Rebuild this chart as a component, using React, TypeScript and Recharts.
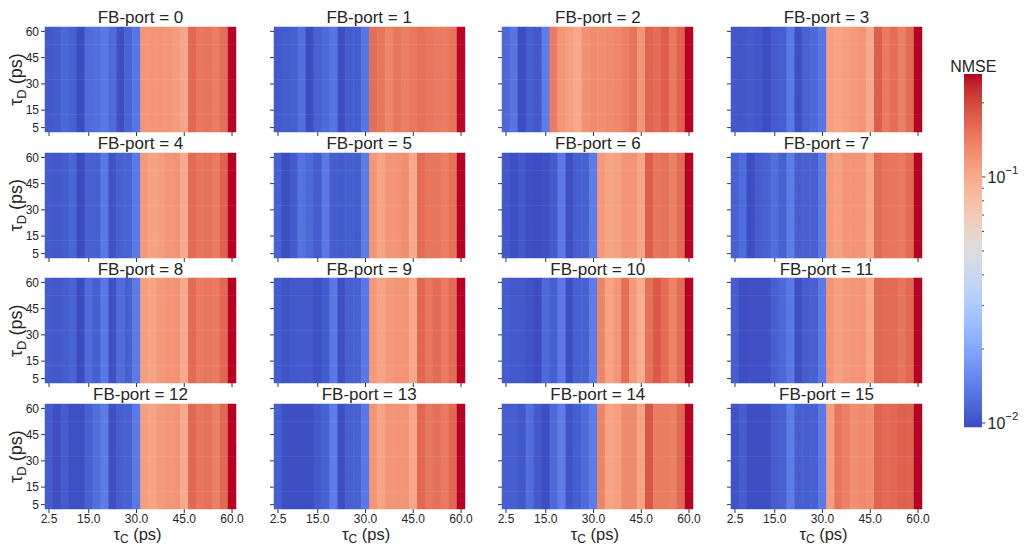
import React from 'react';
import { ScatterChart, Scatter, XAxis, YAxis, BarChart, Bar } from 'recharts';

// grid coordinates (ps)
const tauC = [2.5, 5, 7.5, 10, 12.5, 15, 17.5, 20, 22.5, 25, 27.5, 30, 32.5, 35, 37.5, 40, 42.5, 45, 47.5, 50, 52.5, 55, 57.5, 60];
const tauD = [5, 10, 15, 20, 25, 30, 35, 40, 45, 50, 55, 60];
const xTicks = [2.5, 15, 30, 45, 60];
const yTicks = [5, 15, 30, 45, 60];
const cbTicks = [0.01, 0.02, 0.03, 0.04, 0.05, 0.06, 0.07, 0.08, 0.09, 0.1, 0.2];

// NMSE per tau_C column, one array per FB-port
const port0 = [0.0106, 0.0108, 0.0118, 0.0112, 0.0097, 0.0122, 0.0125, 0.0135, 0.012, 0.0098, 0.0115, 0.0132, 0.118, 0.12, 0.12, 0.118, 0.113, 0.102, 0.165, 0.148, 0.152, 0.142, 0.158, 0.26];
const port1 = [0.0106, 0.0108, 0.011, 0.0125, 0.0097, 0.0112, 0.012, 0.0132, 0.0098, 0.0108, 0.0108, 0.0132, 0.158, 0.15, 0.135, 0.15, 0.14, 0.148, 0.155, 0.15, 0.145, 0.142, 0.152, 0.26];
const port2 = [0.0118, 0.0132, 0.0097, 0.011, 0.0105, 0.0138, 0.145, 0.118, 0.11, 0.1, 0.122, 0.128, 0.125, 0.13, 0.132, 0.14, 0.152, 0.118, 0.168, 0.158, 0.175, 0.148, 0.172, 0.262];
const port3 = [0.0105, 0.0104, 0.0108, 0.0104, 0.0097, 0.0108, 0.011, 0.0135, 0.0099, 0.0112, 0.0118, 0.0133, 0.11, 0.105, 0.11, 0.115, 0.12, 0.1, 0.175, 0.145, 0.158, 0.14, 0.162, 0.262];
const port4 = [0.0108, 0.0106, 0.0108, 0.0116, 0.0097, 0.0112, 0.0112, 0.0135, 0.0101, 0.0112, 0.0114, 0.0135, 0.115, 0.105, 0.11, 0.118, 0.12, 0.1, 0.162, 0.15, 0.155, 0.145, 0.17, 0.262];
const port5 = [0.0112, 0.0097, 0.0108, 0.0128, 0.0118, 0.0108, 0.0135, 0.011, 0.0108, 0.011, 0.0108, 0.0138, 0.118, 0.105, 0.12, 0.12, 0.125, 0.1, 0.162, 0.15, 0.15, 0.14, 0.155, 0.262];
const port6 = [0.0106, 0.0098, 0.0106, 0.0098, 0.0097, 0.0099, 0.0108, 0.0135, 0.0098, 0.011, 0.0112, 0.0138, 0.115, 0.105, 0.108, 0.12, 0.12, 0.104, 0.175, 0.15, 0.155, 0.14, 0.16, 0.262];
const port7 = [0.0112, 0.0122, 0.0098, 0.011, 0.0112, 0.0125, 0.0112, 0.0138, 0.011, 0.0112, 0.0112, 0.0136, 0.115, 0.108, 0.12, 0.12, 0.12, 0.103, 0.162, 0.15, 0.15, 0.145, 0.16, 0.262];
const port8 = [0.0108, 0.0106, 0.0108, 0.0115, 0.0097, 0.0122, 0.0112, 0.0135, 0.0099, 0.0122, 0.0112, 0.0136, 0.11, 0.105, 0.115, 0.12, 0.12, 0.1, 0.162, 0.145, 0.15, 0.145, 0.165, 0.262];
const port9 = [0.0108, 0.0102, 0.0106, 0.0106, 0.0106, 0.0099, 0.0108, 0.0135, 0.0099, 0.011, 0.0112, 0.0135, 0.115, 0.105, 0.115, 0.12, 0.12, 0.1, 0.165, 0.15, 0.16, 0.145, 0.16, 0.262];
const port10 = [0.0108, 0.0106, 0.0106, 0.0102, 0.0097, 0.012, 0.0112, 0.0135, 0.0098, 0.0112, 0.0112, 0.0138, 0.135, 0.105, 0.118, 0.158, 0.115, 0.098, 0.155, 0.18, 0.16, 0.138, 0.16, 0.27];
const port11 = [0.011, 0.0098, 0.0099, 0.0099, 0.0099, 0.0112, 0.0118, 0.0135, 0.0098, 0.011, 0.0112, 0.0135, 0.12, 0.108, 0.115, 0.118, 0.12, 0.103, 0.165, 0.16, 0.16, 0.15, 0.165, 0.265];
const port12 = [0.0108, 0.0099, 0.0108, 0.0099, 0.0099, 0.0112, 0.0125, 0.0138, 0.0099, 0.011, 0.0112, 0.0135, 0.11, 0.105, 0.115, 0.118, 0.12, 0.1, 0.165, 0.15, 0.155, 0.14, 0.165, 0.265];
const port13 = [0.011, 0.0098, 0.0098, 0.0098, 0.0098, 0.0106, 0.0112, 0.0138, 0.0098, 0.011, 0.0112, 0.0135, 0.118, 0.105, 0.12, 0.12, 0.12, 0.102, 0.165, 0.15, 0.155, 0.145, 0.165, 0.265];
const port14 = [0.011, 0.011, 0.0104, 0.0125, 0.0106, 0.0098, 0.0118, 0.0138, 0.0102, 0.011, 0.012, 0.0138, 0.135, 0.105, 0.11, 0.13, 0.13, 0.105, 0.185, 0.142, 0.142, 0.14, 0.165, 0.265];
const port15 = [0.0102, 0.011, 0.0098, 0.0098, 0.0098, 0.011, 0.0112, 0.0138, 0.011, 0.011, 0.0112, 0.0135, 0.11, 0.15, 0.14, 0.125, 0.13, 0.125, 0.168, 0.16, 0.165, 0.172, 0.168, 0.262];

const ports = [port0, port1, port2, port3, port4, port5, port6, port7, port8, port9, port10, port11, port12, port13, port14, port15];

const CB_MIN = 0.0096;
const CB_MAX = 0.262;

// matplotlib coolwarm (Moreland) control points
const COOLWARM: [number, number, number][] = [
  [59, 76, 192], [68, 90, 204], [77, 104, 215], [87, 117, 225], [98, 130, 234], [108, 142, 241],
  [119, 154, 247], [130, 165, 251], [141, 176, 254], [152, 185, 255], [163, 194, 255], [174, 201, 253],
  [184, 208, 249], [194, 213, 244], [204, 217, 238], [213, 219, 230], [221, 221, 221], [229, 216, 209],
  [236, 211, 197], [241, 204, 185], [245, 196, 173], [247, 187, 160], [247, 177, 148], [247, 166, 135],
  [244, 154, 123], [241, 141, 111], [236, 127, 99], [229, 112, 88], [222, 96, 77], [213, 80, 66],
  [203, 62, 56], [192, 40, 47], [180, 4, 38],
];

const rgb = (c: number[]) => `rgb(${c.map(Math.round).join(',')})`;

function cwColor(v: number) {
  let t = (Math.log10(v) - Math.log10(CB_MIN)) / (Math.log10(CB_MAX) - Math.log10(CB_MIN));
  t = Math.max(0, Math.min(1, t));
  const f = t * (COOLWARM.length - 1);
  const i = Math.min(COOLWARM.length - 2, Math.floor(f));
  const r = f - i;
  const a = COOLWARM[i], b = COOLWARM[i + 1];
  return rgb([a[0] + (b[0] - a[0]) * r, a[1] + (b[1] - a[1]) * r, a[2] + (b[2] - a[2]) * r]);
}

// layout
const PLOT_X0 = 45;
const PLOT_Y0 = 27;
const DX = 228.67;
const DY = 125.67;
const PW = 191;
const PH = 105;
const Y_AXIS_W = 40;
const RIGHT_M = 20;
const TOP_M = 30;
const X_AXIS_H = 22;
const CW = PW / tauC.length;
const CH = PH / tauD.length;
const TEXT = '#262626';
const FONT = '"Liberation Sans", Arial, sans-serif';

const CellShape = (props: any) => {
  const { cx, cy, payload } = props;
  return (
    <rect
      x={cx - CW / 2 - 0.25}
      y={cy - CH / 2 - 0.25}
      width={CW + 0.5}
      height={CH + 0.5}
      fill={cwColor(payload.v)}
    />
  );
};

function Panel({ idx }: { idx: number }) {
  const col = idx % 4;
  const row = Math.floor(idx / 4);
  const left = PLOT_X0 + col * DX;
  const top = PLOT_Y0 + row * DY;
  const showX = row === 3;
  const showY = col === 0;

  const cells: { x: number; y: number; v: number }[] = [];
  tauD.forEach((d) => {
    tauC.forEach((c, i) => cells.push({ x: c, y: d, v: ports[idx][i] }));
  });

  return (
    <div style={{ position: 'absolute', left: left - Y_AXIS_W, top: top - TOP_M }}>
      <ScatterChart
        width={Y_AXIS_W + PW + RIGHT_M}
        height={TOP_M + PH + X_AXIS_H}
        margin={{ top: TOP_M, right: RIGHT_M, bottom: 0, left: 0 }}
      >
        <XAxis
          type="number"
          dataKey="x"
          domain={[1.25, 61.25]}
          ticks={xTicks}
          interval={0}
          height={X_AXIS_H}
          axisLine={false}
          tickSize={4}
          tickMargin={1}
          tickLine={{ stroke: '#333' }}
          tick={{ fontSize: 12, fill: TEXT }}
          tickFormatter={(v: number) => (showX ? v.toFixed(1) : '')}
        />
        <YAxis
          type="number"
          dataKey="y"
          domain={[2.5, 62.5]}
          ticks={yTicks}
          interval={0}
          width={Y_AXIS_W}
          axisLine={false}
          tickSize={4}
          tickLine={{ stroke: '#333' }}
          tick={{ fontSize: 12, fill: TEXT }}
          tickFormatter={(v: number) => (showY ? String(v) : '')}
        />
        <Scatter data={cells} shape={CellShape} isAnimationActive={false} />
      </ScatterChart>
    </div>
  );
}

const CbTick = (props: any) => {
  const { x, y, payload } = props;
  const lg = Math.log10(payload.value);
  const major = Math.abs(lg - Math.round(lg)) < 1e-6;
  return (
    <g>
      <line x1={x} x2={x + (major ? 3.5 : 2)} y1={y} y2={y} stroke="#444" strokeWidth={1} />
      {major && (
        <text x={x + 5.5} y={y} dy="0.36em" fontSize={16} fill={TEXT}>
          10
          <tspan fontSize={11.5} dy={-8.5}>{'\u2212' + String(-Math.round(lg))}</tspan>
        </text>
      )}
    </g>
  );
};

const cbData = [{ name: 'NMSE', range: [CB_MIN, CB_MAX] }];

function ColorBar() {
  const top = 74.3;
  const h = 353.4;
  return (
    <div style={{ position: 'absolute', left: 964.3, top: top - 5 }}>
      <BarChart width={18 + 55} height={h + 10} data={cbData} margin={{ top: 5, right: 0, bottom: 5, left: 0 }} barCategoryGap={0}>
        <XAxis dataKey="name" hide />
        <YAxis
          orientation="right"
          type="number"
          scale="log"
          domain={[CB_MIN, CB_MAX]}
          allowDataOverflow
          ticks={cbTicks}
          interval={0}
          width={55}
          axisLine={false}
          tickLine={false}
          tickSize={0}
          tickMargin={0}
          tick={(p: any) => <CbTick {...p} />}
        />
        <Bar dataKey="range" fill="url(#cwGrad)" isAnimationActive={false} />
      </BarChart>
    </div>
  );
}

export default function App() {
  const panels = ports.map((_, i) => i);
  return (
    <div style={{ position: 'absolute', left: 0, top: 0, width: 1024, height: 545, background: '#fff', fontFamily: FONT }}>
      <svg width={0} height={0} style={{ position: 'absolute' }}>
        <defs>
          <linearGradient id="cwGrad" x1="0" y1="1" x2="0" y2="0">
            {COOLWARM.map((c, i) => (
              <stop key={i} offset={i / (COOLWARM.length - 1)} stopColor={rgb(c)} />
            ))}
          </linearGradient>
        </defs>
      </svg>

      {panels.map((i) => (
        <Panel key={i} idx={i} />
      ))}

      <ColorBar />

      <svg width={1024} height={545} style={{ position: 'absolute', left: 0, top: 0, pointerEvents: 'none' }} fontFamily={FONT}>
        {panels.map((i) => {
          const cx = PLOT_X0 + (i % 4) * DX + PW / 2;
          const ty = PLOT_Y0 + Math.floor(i / 4) * DY - 3.7;
          return (
            <text key={i} x={cx} y={ty} textAnchor="middle" fontSize={17} fill={TEXT}>
              FB-port = {i}
            </text>
          );
        })}
        {[0, 1, 2, 3].map((r) => {
          const cy = PLOT_Y0 + r * DY + PH / 2;
          return (
            <text key={'yl' + r} x={22} y={cy} textAnchor="middle" fontSize={18} fill={TEXT} transform={`rotate(-90, 22, ${cy})`}>
              τ<tspan fontSize={13} dy={4}>D</tspan>
              <tspan dy={-4}> (ps)</tspan>
            </text>
          );
        })}
        {[0, 1, 2, 3].map((c) => {
          const cx = PLOT_X0 + c * DX + PW / 2 - 3;
          return (
            <text key={'xl' + c} x={cx} y={539.5} textAnchor="middle" fontSize={16.5} fill={TEXT}>
              τ<tspan fontSize={12} dy={3.5}>C</tspan>
              <tspan dy={-3.5}> (ps)</tspan>
            </text>
          );
        })}
        <text x={973.3} y={71.5} textAnchor="middle" fontSize={16} fill={TEXT}>
          NMSE
        </text>
      </svg>
    </div>
  );
}
